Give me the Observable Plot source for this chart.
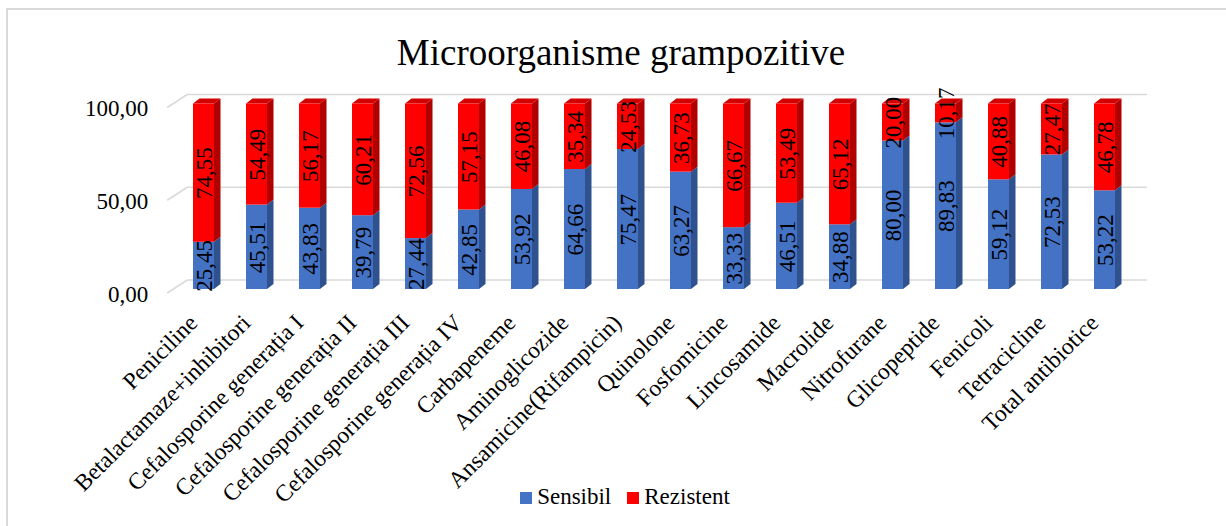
<!DOCTYPE html>
<html><head><meta charset="utf-8">
<script src="https://cdn.jsdelivr.net/npm/d3@7"></script>
<script src="https://cdn.jsdelivr.net/npm/@observablehq/plot@0.6"></script>
<style>
body{margin:0;background:#fff;}
#wrap{position:relative;width:1226px;height:526px;overflow:hidden;font-family:'Liberation Serif',serif;color:#000;}
#frame{position:absolute;left:6px;top:8px;width:1300px;height:600px;border-left:2px solid #d9d9d9;border-top:2px solid #d9d9d9;}
#title{position:absolute;left:0;width:1242px;top:34px;text-align:center;font-size:37px;line-height:37px;white-space:nowrap;font-family:'Liberation Serif',serif;}
#legend{position:absolute;left:0;width:1250px;top:485px;text-align:center;font-size:23px;line-height:24px;white-space:nowrap;font-family:'Liberation Serif',serif;}
#legend .sw{display:inline-block;width:12px;height:12px;margin-right:5px;vertical-align:0px;}
#legend .it{display:inline-block;margin:0 8px;}
#chart{position:absolute;left:0;top:0;}
#chart svg text{font-family:'Liberation Serif',serif !important;}
</style></head>
<body>
<div id="wrap">
  <div id="frame"></div>
  <div id="chart"></div>
  <div id="title">Microorganisme grampozitive</div>
  <div id="legend"></div>
</div>
<script>
const categories = ["Peniciline","Betalactamaze+inhibitori","Cefalosporine generația I","Cefalosporine generația II","Cefalosporine generația III","Cefalosporine generația IV","Carbapeneme","Aminoglicozide","Ansamicine(Rifampicin)","Quinolone","Fosfomicine","Lincosamide","Macrolide","Nitrofurane","Glicopeptide","Fenicoli","Tetracicline","Total antibiotice"];
const sensibil  = [25.45,45.51,43.83,39.79,27.44,42.85,53.92,64.66,75.47,63.27,33.33,46.51,34.88,80.00,89.83,59.12,72.53,53.22];
const rezistent = [74.55,54.49,56.17,60.21,72.56,57.15,46.08,35.34,24.53,36.73,66.67,53.49,65.12,20.00,10.17,40.88,27.47,46.78];
const seriesNames = ["Sensibil","Rezistent"];
const seriesColors = ["#4472C4","#FF0000"];
const sideColors = {"Sensibil":"#2F528F","Rezistent":"#B00000"};
const topColors = {"Sensibil":"#3A62A8","Rezistent":"#D20000"};
const yTicks = [0,50,100];

const rows = [
  ...categories.map((c,i)=>({cat:c, series:"Sensibil", value:sensibil[i]})),
  ...categories.map((c,i)=>({cat:c, series:"Rezistent", value:rezistent[i]}))
];
const fmt = v => v.toFixed(2).replace(".", ",");
const DX = 6.5, DZ = 5;
const FONT = "Liberation Serif";

const plot = Plot.plot({
  width: 1226,
  height: 526,
  marginTop: 103.5,
  marginBottom: 237,
  marginLeft: 157.7,
  marginRight: 76.6,
  style: {fontFamily: FONT, background: "transparent", overflow: "visible"},
  x: {domain: categories, padding: 0.606, axis: null},
  y: {domain: [0,100]},
  color: {domain: seriesNames, range: seriesColors},
  marks: [
    Plot.ruleY(yTicks, {
      render(index, scales, values, dims) {
        const g = d3.create("svg:g").attr("stroke", "#d9d9d9").attr("stroke-width", 1.6).attr("fill", "none");
        const x0 = dims.marginLeft + 9.5;
        const x1 = x0 + 20;
        const x2 = dims.width - dims.marginRight - 2.5;
        for (const i of index) {
          const y = values.y[i];
          g.append("path").attr("d", `M${x0},${y+4}L${x1},${y-9}L${x2},${y-9}`);
        }
        return g.node();
      }
    }),
    Plot.barY(rows, Plot.stackY({
      x: "cat", y: "value", fill: "series",
      render(index, scales, values, dims, context, next) {
        const wrap = d3.create("svg:g");
        const bw = scales.x.bandwidth();
        const top = new Map();
        for (const i of index) {
          const c = rows[i].cat, yt = Math.min(values.y1[i], values.y2[i]);
          if (!top.has(c) || yt < top.get(c).yt) top.set(c, {i, yt});
        }
        const faces = wrap.append("g");
        for (const i of index) {
          const xl = values.x[i], xr = xl + bw;
          const yt = Math.min(values.y1[i], values.y2[i]);
          const yb = Math.max(values.y1[i], values.y2[i]);
          faces.append("path")
            .attr("fill", sideColors[rows[i].series])
            .attr("d", `M${xr},${yt}L${xr+DX},${yt-DZ}L${xr+DX},${yb-DZ}L${xr},${yb}Z`);
          if (top.get(rows[i].cat).i === i) {
            faces.append("path")
              .attr("fill", topColors[rows[i].series])
              .attr("d", `M${xl},${yt}L${xl+DX},${yt-DZ}L${xr+DX},${yt-DZ}L${xr},${yt}Z`);
          }
        }
        wrap.node().appendChild(next(index, scales, values, dims, context));
        return wrap.node();
      }
    })),
    Plot.text(rows, Plot.stackY({
      x: "cat", y: "value", text: d => fmt(d.value),
      rotate: -90, textAnchor: "middle", lineAnchor: "middle",
      fontFamily: FONT, fontSize: 23, fill: "#000", dx: 1
    })),
    Plot.axisY(yTicks, {
      tickSize: 0, tickPadding: 10, tickFormat: fmt,
      fontFamily: FONT, fontSize: 23, fill: "#000", dy: 5, label: null
    }),
    Plot.text(categories, {
      x: d => d, frameAnchor: "bottom", rotate: -45,
      textAnchor: "end", lineAnchor: "top",
      dx: -17, dy: 23, fontFamily: FONT, fontSize: 23.5, fill: "#000"
    })
  ]
});
document.getElementById("chart").appendChild(plot);

const legend = document.getElementById("legend");
seriesNames.forEach((s, k) => {
  const it = document.createElement("span");
  it.className = "it";
  const sw = document.createElement("span");
  sw.className = "sw";
  sw.style.background = seriesColors[k];
  it.appendChild(sw);
  it.appendChild(document.createTextNode(s));
  legend.appendChild(it);
});
</script>
</body></html>
